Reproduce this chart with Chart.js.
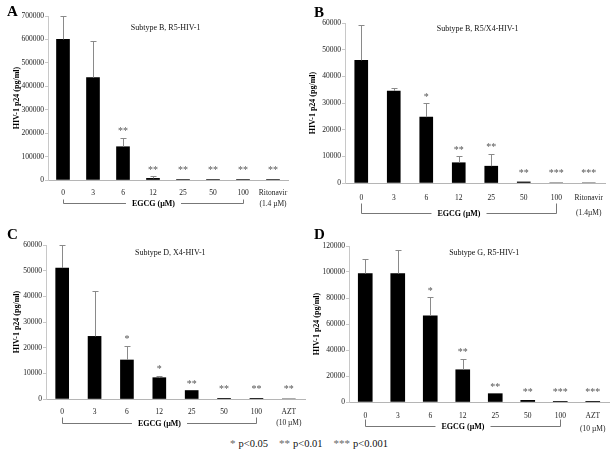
<!DOCTYPE html>
<html>
<head>
<meta charset="utf-8">
<script src="https://cdn.jsdelivr.net/npm/chart.js@4.4.1/dist/chart.umd.min.js"></script>
<style>
body { margin: 0; background: #fff; width: 614px; height: 452px; position: relative; overflow: hidden;
       font-family: 'Liberation Serif', 'Times New Roman', serif; }
canvas { position: absolute; }
.letter { position: absolute; font-weight: bold; font-size: 15px; line-height: 15px; color: #000; }
#legend { position: absolute; left: 230px; top: 437px; font-size: 10.5px; line-height: 12px; white-space: nowrap; color: #111; }
#legend .st { color: #666; font-size: 11px; }
</style>
</head>
<body>
<canvas id="chartA" width="320" height="215" style="left:0;top:0"></canvas>
<canvas id="chartB" width="314" height="222" style="left:300px;top:0"></canvas>
<canvas id="chartC" width="320" height="212" style="left:0;top:222px"></canvas>
<canvas id="chartD" width="314" height="215" style="left:300px;top:222px"></canvas>
<div class="letter" style="left:7px;top:4px">A</div>
<div class="letter" style="left:314px;top:5px">B</div>
<div class="letter" style="left:7px;top:227px">C</div>
<div class="letter" style="left:314px;top:227px">D</div>
<div id="legend"><span class="st">*</span><span style="margin-left:3px">p&lt;0.05</span><span class="st" style="margin-left:11px">**</span><span style="margin-left:3px">p&lt;0.01</span><span class="st" style="margin-left:11px">***</span><span style="margin-left:3px">p&lt;0.001</span></div>
<script>
// EGCG concentrations (µM) plus control drug
const labelsA = ['0', '3', '6', '12', '25', '50', '100', ['Ritonavir', '(1.4 µM)']];
const labelsB = ['0', '3', '6', '12', '25', '50', '100', ['Ritonavir', '(1.4µM)']];
const labelsCD = ['0', '3', '6', '12', '25', '50', '100', ['AZT', '(10 µM)']];

// p24 means and upper SD
const valuesA = [600000, 437000, 142000, 7000, 2000, 2000, 2000, 2000];
const errorsA = [100000, 156000, 39000, 9000, 0, 0, 0, 0];
const starsA = ['', '', '**', '**', '**', '**', '**', '**'];

const valuesB = [46000, 34500, 24700, 7600, 6300, 400, 0, 0];
const errorsB = [13300, 1100, 5300, 2400, 4700, 0, 0, 0];
const starsB = ['', '', '*', '**', '**', '**', '***', '***'];

const valuesC = [51000, 24400, 15200, 8300, 3300, 100, 100, 0];
const errorsC = [9000, 17600, 5500, 800, 0, 0, 0, 0];
const starsC = ['', '', '*', '*', '**', '**', '**', '**'];

const valuesD = [98800, 98800, 66200, 24800, 6400, 1300, 500, 200];
const errorsD = [11400, 18400, 14300, 8400, 0, 0, 0, 0];
const starsD = ['', '', '*', '**', '**', '**', '***', '***'];

const serif = "'Liberation Serif', 'Times New Roman', serif";

function makePanel(id, p) {
    // error bars, significance stars, inner title and EGCG bracket
    const extras = {
        id: 'extras_' + id,
        afterDatasetsDraw(chart) {
            const ctx = chart.ctx;
            const ds = chart.data.datasets[0];
            const meta = chart.getDatasetMeta(0);
            const y = chart.scales.y;
            ctx.save();
            ctx.strokeStyle = '#8a8a8a';
            ctx.lineWidth = 1;
            ctx.font = '10px ' + serif;
            ctx.fillStyle = '#555';
            ctx.textAlign = 'center';
            ctx.textBaseline = 'middle';
            meta.data.forEach((bar, i) => {
                const err = ds.errors[i];
                const top = y.getPixelForValue(ds.data[i] + err);
                const x = Math.round(bar.x) + 0.5;
                if (err > 0) {
                    ctx.beginPath();
                    ctx.moveTo(x, bar.y);
                    ctx.lineTo(x, Math.round(top) + 0.5);
                    ctx.moveTo(x - 3, Math.round(top) + 0.5);
                    ctx.lineTo(x + 3, Math.round(top) + 0.5);
                    ctx.stroke();
                }
                if (ds.stars[i]) {
                    ctx.fillText(ds.stars[i], bar.x, Math.min(top, y.bottom - 4) - 6);
                }
            });
            ctx.restore();
        },
        afterDraw(chart) {
            const ctx = chart.ctx;
            const area = chart.chartArea;
            const x = chart.scales.x;
            ctx.save();
            // title inside plot
            ctx.fillStyle = '#111';
            ctx.font = '8px ' + serif;
            ctx.textAlign = 'center';
            ctx.textBaseline = 'middle';
            ctx.fillText(p.title, area.left + p.titleX * (area.right - area.left), area.top + p.titleDy);

            // bracket under EGCG doses
            const x0 = Math.round(x.getPixelForValue(0)) + 0.5;
            const x1 = Math.round(x.getPixelForValue(6)) + 0.5;
            const yb = Math.round(area.bottom + p.bracketDy) + 0.5;
            ctx.font = 'bold 8px ' + serif;
            const label = 'EGCG (µM)';
            const w = ctx.measureText(label).width;
            const mid = (x0 + x1) / 2;
            ctx.strokeStyle = '#777';
            ctx.lineWidth = 1;
            ctx.beginPath();
            ctx.moveTo(x0, yb - p.bracketTick);
            ctx.lineTo(x0, yb);
            ctx.lineTo(mid - w / 2 - 6, yb);
            ctx.moveTo(mid + w / 2 + 6, yb);
            ctx.lineTo(x1, yb);
            ctx.lineTo(x1, yb - p.bracketTick);
            ctx.stroke();
            ctx.fillStyle = '#000';
            ctx.fillText(label, mid, yb);
            ctx.restore();
        }
    };

    return new Chart(document.getElementById(id), {
        type: 'bar',
        data: {
            labels: p.labels,
            datasets: [{
                data: p.values,
                errors: p.errors,
                stars: p.stars,
                backgroundColor: '#000',
                barThickness: p.barW
            }]
        },
        options: {
            responsive: false,
            animation: false,
            layout: { padding: { left: 0, top: p.top, right: p.right, bottom: 0 } },
            plugins: { legend: { display: false }, tooltip: { enabled: false } },
            scales: {
                x: {
                    grid: { display: false },
                    border: { color: '#b5b5b5' },
                    ticks: {
                        autoSkip: false, maxRotation: 0, padding: p.tickPad,
                        color: '#222', font: { family: serif, size: 7.5, lineHeight: p.lineH }
                    },
                    afterFit: s => { s.height = p.xh; }
                },
                y: {
                    min: 0,
                    max: p.max,
                    grid: { drawOnChartArea: false, drawTicks: true, tickLength: 3, color: '#c8c8c8' },
                    border: { color: '#c8c8c8' },
                    ticks: {
                        stepSize: p.step, padding: 1, color: '#222',
                        font: { family: serif, size: 7.5 },
                        callback: v => String(v)
                    },
                    title: {
                        display: true, text: 'HIV-1 p24 (pg/ml)', color: '#000',
                        font: { family: serif, size: 8, weight: 'bold' },
                        padding: { top: p.ytp, bottom: 0 }
                    },
                    afterFit: s => { s.width = p.yw; }
                }
            }
        },
        plugins: [extras]
    });
}

makePanel('chartA', {
    labels: labelsA, values: valuesA, errors: errorsA, stars: starsA,
    max: 700000, step: 100000, title: 'Subtype B, R5-HIV-1', titleX: 0.49, titleDy: 12,
    top: 16, right: 32, yw: 48, xh: 35, ytp: 12, tickPad: 0, lineH: 1.45, barW: 13,
    bracketDy: 23, bracketTick: 4
});
makePanel('chartB', {
    labels: labelsB, values: valuesB, errors: errorsB, stars: starsB,
    max: 60000, step: 10000, title: 'Subtype B, R5/X4-HIV-1', titleX: 0.51, titleDy: 6,
    top: 23, right: 9, yw: 45, xh: 39, ytp: 8, tickPad: 0, lineH: 2.0, barW: 13,
    bracketDy: 30, bracketTick: 10
});
makePanel('chartC', {
    labels: labelsCD, values: valuesC, errors: errorsC, stars: starsC,
    max: 60000, step: 10000, title: 'Subtype D, X4-HIV-1', titleX: 0.48, titleDy: 8,
    top: 23, right: 15, yw: 46, xh: 35, ytp: 12, tickPad: 0, lineH: 1.45, barW: 13,
    bracketDy: 24, bracketTick: 6
});
makePanel('chartD', {
    labels: labelsCD, values: valuesD, errors: errorsD, stars: starsD,
    max: 120000, step: 20000, title: 'Subtype G, R5-HIV-1', titleX: 0.52, titleDy: 7,
    top: 24, right: 5, yw: 49, xh: 35, ytp: 12, tickPad: -1, lineH: 1.8, barW: 14,
    bracketDy: 24, bracketTick: 7
});
</script>
</body>
</html>
